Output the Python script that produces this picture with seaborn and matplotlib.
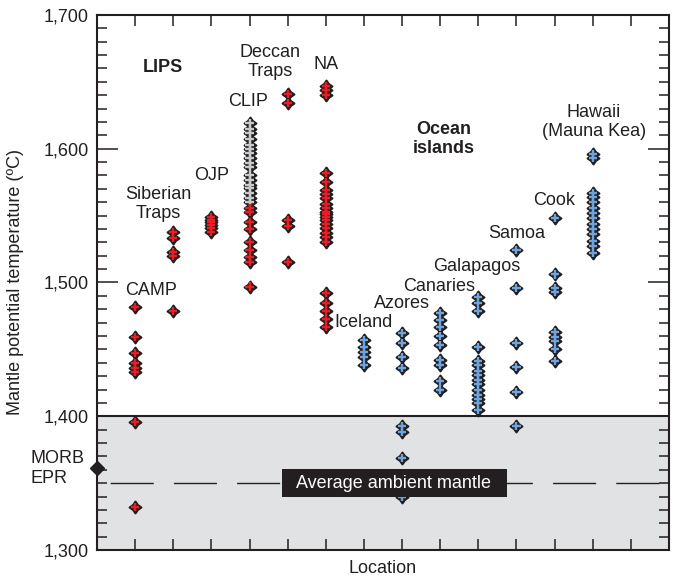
import pandas as pd
import matplotlib
matplotlib.use('Agg')
import matplotlib.pyplot as plt
from matplotlib.path import Path
from matplotlib.ticker import MultipleLocator, FuncFormatter, FixedLocator
import seaborn as sns

# temperatures (ºC), one list per location
camp = [1482, 1459, 1447, 1440, 1436, 1433, 1396, 1332]
siberian = [1538, 1533, 1523, 1520, 1479]
ojp = [1549, 1547, 1545, 1543, 1541, 1538]
clip_grey = [1619, 1615, 1612, 1607, 1603, 1600, 1597, 1593, 1589, 1586,
             1580, 1577, 1573, 1571, 1567, 1563, 1560]
clip_red = [1556, 1553, 1545, 1540, 1530, 1524, 1519, 1515, 1497]
deccan = [1641, 1634, 1547, 1542, 1515]
na = [1647, 1644, 1640, 1582, 1575, 1569, 1566, 1563, 1559, 1556, 1553, 1551,
      1549, 1547, 1544, 1541, 1537, 1534, 1530, 1492, 1485, 1479, 1473, 1467]
iceland = [1457, 1452, 1448, 1444, 1438]
azores = [1462, 1455, 1444, 1436, 1393, 1388, 1369, 1340]
canaries = [1477, 1472, 1467, 1460, 1453, 1442, 1438, 1426, 1420]
galapagos = [1489, 1485, 1479, 1452, 1441, 1438, 1434, 1431, 1427, 1424,
             1420, 1416, 1413, 1410, 1405]
samoa = [1524, 1496, 1455, 1437, 1418, 1393]
cook = [1548, 1506, 1496, 1493, 1463, 1459, 1456, 1450, 1441]
hawaii = [1596, 1593, 1567, 1564, 1560, 1556, 1552, 1548, 1544, 1540, 1536,
          1531, 1527, 1522]

ambient_mantle = 1350
morb_epr = 1361
ambient_top = 1400

# (location index, values, group)
series = [(1, camp, 'LIPS'), (2, siberian, 'LIPS'), (3, ojp, 'LIPS'),
          (4, clip_grey, 'CLIP'), (4, clip_red, 'LIPS'), (5, deccan, 'LIPS'),
          (6, na, 'LIPS'), (7, iceland, 'Ocean'), (8, azores, 'Ocean'),
          (9, canaries, 'Ocean'), (10, galapagos, 'Ocean'), (11, samoa, 'Ocean'),
          (12, cook, 'Ocean'), (13, hawaii, 'Ocean')]

rows = []
for pos, vals, grp in series:
    for v in vals:
        rows.append({'pos': pos, 'temp': v, 'group': grp})
df = pd.DataFrame(rows)

# text labels: (text, x, y, bold)
labels = [('LIPS', 1.73, 1661, True), ('CAMP', 1.42, 1494, False),
          ('Siberian\nTraps', 1.6, 1559, False), ('OJP', 3.0, 1580, False),
          ('CLIP', 3.96, 1635, False), ('Deccan\nTraps', 4.54, 1665, False),
          ('NA', 6.0, 1663, False), ('Ocean\nislands', 9.08, 1607, True),
          ('Iceland', 7.0, 1470, False), ('Azores', 8.0, 1484, False),
          ('Canaries', 8.98, 1497, False), ('Galapagos', 9.97, 1512, False),
          ('Samoa', 11.0, 1537, False), ('Cook', 12.0, 1561, False),
          ('Hawaii\n(Mauna Kea)', 13.03, 1620, False)]

sns.set_style('ticks')
plt.rcParams['font.family'] = ['Liberation Sans', 'DejaVu Sans']
ink = '#231f20'
pal = {'LIPS': '#ed1c24', 'Ocean': '#6fa3dc', 'CLIP': '#c9cacc'}

# fat four-pointed star used as the dark outline behind each cross
star = Path.unit_regular_star(4, innerCircle=0.58)

fig = plt.figure(figsize=(6.74, 5.76), dpi=100)
ax = fig.add_axes([0.1439, 0.0451, 0.8487, 0.9289])

ax.axhspan(1300, ambient_top, color='#e1e2e4', lw=0, zorder=0)
ax.axhline(ambient_top, color=ink, lw=1.5, zorder=1)
ax.axhline(ambient_mantle, color=ink, lw=1, ls=(36, (31, 14.5)), zorder=1)

sns.scatterplot(data=df, x='pos', y='temp', marker=star, color=ink, s=70,
                edgecolor=ink, linewidth=1.6, ax=ax, zorder=3, legend=False)
sns.scatterplot(data=df, x='pos', y='temp', hue='group', palette=pal, marker='+',
                s=34, linewidth=1.7, ax=ax, zorder=4, legend=False)

ax.plot([0], [morb_epr], marker='D', ms=7, color=ink, clip_on=False,
        transform=ax.get_yaxis_transform(), zorder=6)
ax.text(-0.117, morb_epr, 'MORB\nEPR', transform=ax.get_yaxis_transform(),
        ha='left', va='center', fontsize=13, color=ink, linespacing=1.25)

ax.text(7.8, ambient_mantle, '  Average ambient mantle  ', ha='center', va='center',
        fontsize=13, color='white', zorder=5,
        bbox=dict(boxstyle='square,pad=0.32', fc=ink, ec='none'))

for txt, x, y, bold in labels:
    ax.text(x, y, txt, ha='center', va='center', fontsize=13, color=ink,
            fontweight='bold' if bold else 'normal', linespacing=1.15, zorder=5)

ax.set_xlim(0, 15)
ax.set_ylim(1300, 1700)
ax.xaxis.set_major_locator(FixedLocator(range(1, 15)))
ax.yaxis.set_major_locator(MultipleLocator(100))
ax.yaxis.set_minor_locator(MultipleLocator(10))
ax.yaxis.set_major_formatter(FuncFormatter(lambda v, p: f'{int(v):,}'))

ax.tick_params(axis='y', which='major', direction='in', length=15, width=1.1,
               left=True, right=True, labelsize=13, pad=6, colors=ink)
ax.tick_params(axis='y', which='minor', direction='in', length=7, width=1.1,
               left=True, right=True, colors=ink)
ax.tick_params(axis='x', direction='in', length=8, width=1.1, top=True,
               bottom=True, labelbottom=False, colors=ink)
for sp in ax.spines.values():
    sp.set_linewidth(1.5)
    sp.set_color(ink)
    sp.set_zorder(7)

ax.set_xlabel('Location', fontsize=13, color=ink, labelpad=7)
ax.set_ylabel('Mantle potential temperature (ºC)', fontsize=13, color=ink, labelpad=14)

fig.savefig('out.png', dpi=100)
